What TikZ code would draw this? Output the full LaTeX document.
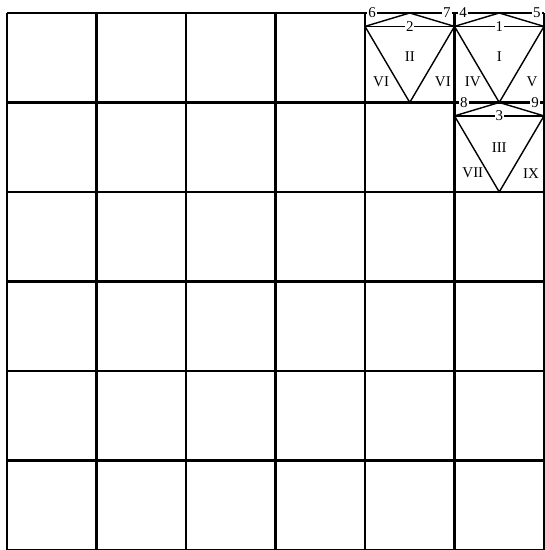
\documentclass[tikz,border=0pt]{standalone}
\usepackage{fontspec}
\setmainfont{Liberation Serif}
\begin{document}
\begin{tikzpicture}[x=2cm,y=2cm,
    lab/.style={fill=white,inner sep=0.6pt,font=\fontsize{9.5}{11}\selectfont},
    rom/.style={inner sep=0.6pt,font=\fontsize{9.5}{11}\selectfont}]
    \useasboundingbox (-0.078,0) rectangle (6,6.145);
    % Grid
    \foreach \i in {0,...,6} {
        \draw[line width=1.3pt] (\i,0) -- (\i,6);
        \draw[line width=1.3pt] (0,\i) -- (6,\i);
    }

    % Folded triangles
    \foreach \x/\y in {4/6, 5/6, 5/5} {
        \draw[line width=0.9pt] (\x,\y-0.15) -- (\x+1,\y-0.15);
        \draw[line width=0.9pt] (\x,\y-0.15) -- (\x+0.5,\y) -- (\x+1,\y-0.15);
        \draw[line width=0.9pt] (\x,\y-0.15) -- (\x+0.5,\y-1) -- (\x+1,\y-0.15);
    }

    % Edge numbers
    \node[lab] (n6) at (4.08,6) {6};
    \node[lab] (n7) at (4.915,6) {7};
    \node[lab] (n4) at (5.095,6) {4};
    \node[lab] (n5) at (5.92,6) {5};
    \node[lab] (n2) at (4.5,5.85) {2};
    \node[lab] (n1) at (5.5,5.85) {1};
    \node[lab] (n8) at (5.105,5) {8};
    \node[lab] (n9) at (5.9,5) {9};
    \node[lab] (n3) at (5.5,4.85) {3};

    % Face labels
    \node[rom] (fII) at (4.5,5.51) {II};
    \node[rom] (fVIa) at (4.18,5.23) {VI};
    \node[rom] (fVIb) at (4.87,5.23) {VI};
    \node[rom] (fI) at (5.5,5.51) {I};
    \node[rom] (fIV) at (5.205,5.23) {IV};
    \node[rom] (fV) at (5.865,5.23) {V};
    \node[rom] (fIII) at (5.5,4.5) {III};
    \node[rom] (fVII) at (5.205,4.21) {VII};
    \node[rom] (fIX) at (5.855,4.21) {IX};
\end{tikzpicture}
\end{document}
